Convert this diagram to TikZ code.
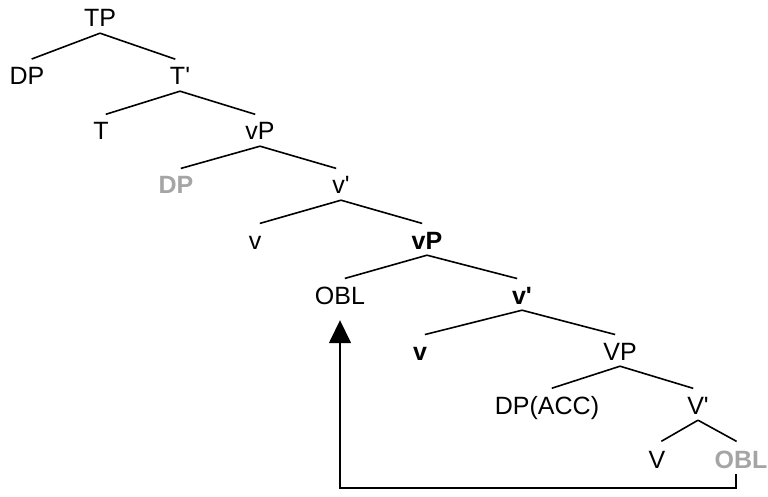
\documentclass[tikz,border=0pt]{standalone}
\usepackage{fontspec}
\setmainfont{Liberation Sans}
\usetikzlibrary{arrows.meta}
\newcommand{\barmark}{\textquotesingle}
\definecolor{tracegray}{RGB}{165,165,165}

\begin{document}
\begin{tikzpicture}[x=1pt, y=-1pt,
      cat/.style={inner xsep=0pt, inner ysep=6pt, text height=18pt, text depth=0pt, font=\fontsize{25}{30}\selectfont},
      hd/.style={cat, font=\fontsize{25}{30}\selectfont\bfseries},
      trace/.style={hd, text=tracegray},
      branch/.style={line width=1.6pt, shorten >=5pt},
      move/.style={-{Triangle[width=22pt, length=23pt]}, line width=1.6pt}
    ]
    \useasboundingbox (0,0) rectangle (768,497);

    \node[cat] (tp) at (100,18) {TP};
    \node[cat] (dp) at (27,76) {DP};
    \node[cat] (tbar) at (180,76) {T\barmark};
    \node[cat] (t) at (101,131) {T};
    \node[cat] (vp) at (260,131) {vP};
    \node[trace] (dpt) at (176,185) {DP};
    \node[cat] (vbar) at (341,185) {v\barmark};
    \node[cat] (v) at (255,240) {v};
    \node[hd] (vpb) at (427,240) {vP};
    \node[cat] (obl) at (340,295) {OBL};
    \node[hd] (vbarb) at (522,295) {v\barmark};
    \node[hd] (vb) at (420,351) {v};
    \node[cat] (bigvp) at (620,351) {VP};
    \node[cat] (acc) at (547,405) {DP(ACC)};
    \node[cat] (bigvbar) at (698,405) {V\barmark};
    \node[cat] (bigv) at (657,459) {V};
    \node[trace] (oblt) at (741,459) {OBL};

    \draw[branch] (tp.south) -- (dp.north);
    \draw[branch] (tp.south) -- (tbar.north);
    \draw[branch] (tbar.south) -- (t.north);
    \draw[branch] (tbar.south) -- (vp.north);
    \draw[branch] (vp.south) -- (dpt.north);
    \draw[branch] (vp.south) -- (vbar.north);
    \draw[branch] (vbar.south) -- (v.north);
    \draw[branch] (vbar.south) -- (vpb.north);
    \draw[branch] (vpb.south) -- (obl.north);
    \draw[branch] (vpb.south) -- (vbarb.north);
    \draw[branch] (vbarb.south) -- (vb.north);
    \draw[branch] (vbarb.south) -- (bigvp.north);
    \draw[branch] (bigvp.south) -- (acc.north);
    \draw[branch] (bigvp.south) -- (bigvbar.north);
    \draw[branch] (bigvbar.south) -- (bigv.north);
    \draw[branch] (bigvbar.south) -- (oblt.north);

    \draw[move] ([xshift=-5pt]oblt.south) -- ++(0,14) -| ([yshift=-10pt]obl.south);

    \end{tikzpicture}
\end{document}
